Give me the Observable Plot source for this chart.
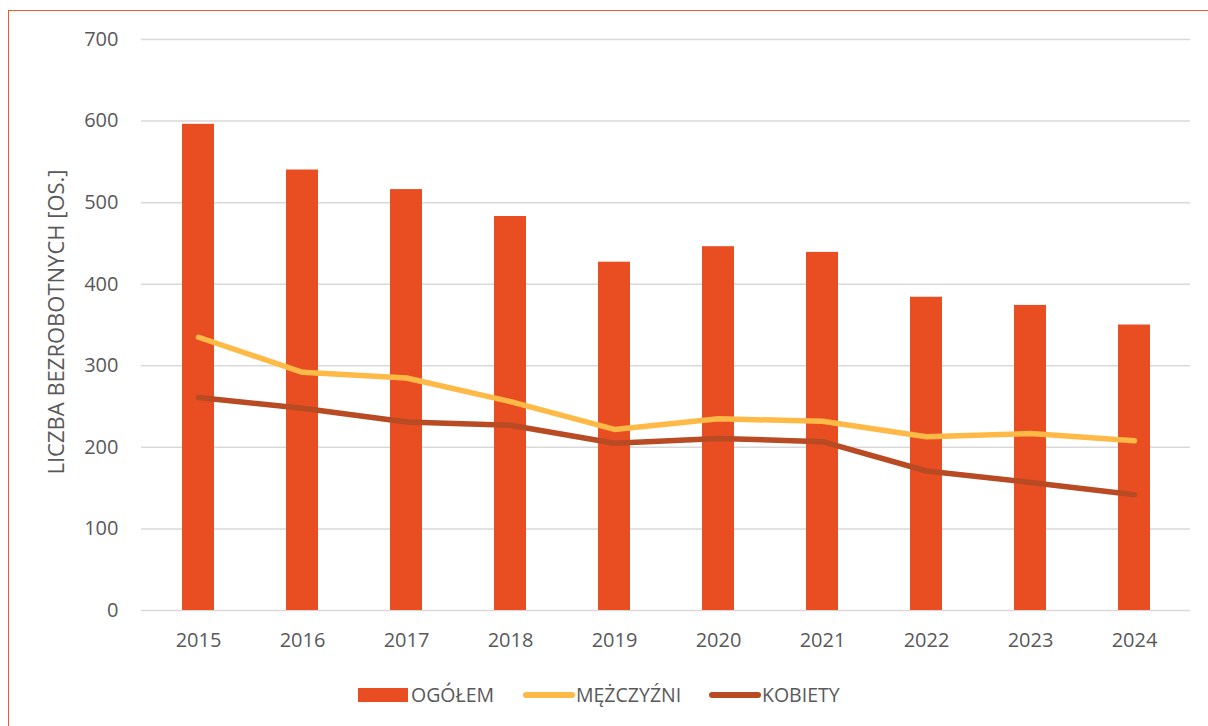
<!DOCTYPE html>
<html><head><meta charset="utf-8">
<script src="https://cdn.jsdelivr.net/npm/d3@7"></script>
<script src="https://cdn.jsdelivr.net/npm/@observablehq/plot@0.6"></script>
<style>
html,body{margin:0;padding:0;background:#fff;}
#wrap{position:relative;width:1208px;height:726px;overflow:hidden;font-family:"Open Sans",sans-serif;}
#frame{position:absolute;left:8px;top:10px;width:1300px;height:800px;border:1.5px solid #EE5A2E;box-sizing:border-box;}
#chart{position:absolute;left:0;top:0;}
#legend{position:absolute;top:680px;left:0;width:1208px;height:30px;font-size:19.5px;color:#595959;}
.sw{position:absolute;}
.lt{position:absolute;top:0;height:30px;line-height:30px;white-space:nowrap;}
</style></head>
<body><div id="wrap"><div id="frame"></div><div id="chart"></div>
<div id="legend"></div></div>
<script>
const years = ["2015","2016","2017","2018","2019","2020","2021","2022","2023","2024"];
const ogolem = [596, 540, 516, 483, 427, 446, 439, 384, 374, 350];
const mezczyzni = [335, 292, 285, 256, 222, 235, 232, 213, 217, 208];
const kobiety = [261, 248, 231, 227, 205, 211, 207, 171, 157, 142];
const yTicks = [0,100,200,300,400,500,600,700];
const seriesNames = ["OGÓŁEM","MĘŻCZYŹNI","KOBIETY"];
const colors = ["#E84E22","#FFB946","#B84A24"];

const bars = years.map((y,i)=>({year:y, v:ogolem[i]}));
const men = years.map((y,i)=>({year:y, v:mezczyzni[i]}));
const women = years.map((y,i)=>({year:y, v:kobiety[i]}));

const plot = Plot.plot({
  width:1208, height:660,
  marginLeft:141, marginRight:18, marginTop:39, marginBottom:50,
  style:{fontFamily:"Open Sans, sans-serif", fontSize:"20px", color:"#595959", background:"transparent"},
  x:{type:"band", domain:years, paddingInner:0.695, paddingOuter:0.3475, align:0.5, label:null},
  y:{domain:[0,700], ticks:yTicks, label:null},
  marks:[
    Plot.gridY(yTicks,{stroke:"#d9d9d9", strokeWidth:1.5, strokeOpacity:1}),
    Plot.barY(bars,{x:"year", y:"v", fill:colors[0]}),
    Plot.line(men,{x:"year", y:"v", stroke:colors[1], strokeWidth:5.5, strokeLinecap:"round", strokeLinejoin:"round"}),
    Plot.line(women,{x:"year", y:"v", stroke:colors[2], strokeWidth:5.5, strokeLinecap:"round", strokeLinejoin:"round"}),
    Plot.axisX({tickSize:0, tickPadding:22, fontSize:20, fill:"#595959", label:null}),
    Plot.axisY({ticks:yTicks, tickSize:0, tickPadding:23, fontSize:20, fill:"#595959", label:null}),
    Plot.text(["LICZBA BEZROBOTNYCH [OS.]"],{frameAnchor:"left", textAnchor:"middle", dx:-85, dy:-3, rotate:-90, fontSize:22, fill:"#595959"})
  ]
});
document.getElementById("chart").appendChild(plot);

const lg = document.getElementById("legend");
const swPos = [[358,50],[523,52],[709,52]];
const txtPos = [411, 576, 762];
seriesNames.forEach((n,i)=>{
  const sw = document.createElement("div"); sw.className="sw";
  sw.style.left = swPos[i][0]+"px"; sw.style.width = swPos[i][1]+"px";
  if(i===0){ sw.style.top="8px"; sw.style.height="14px"; sw.style.background=colors[0]; }
  else { sw.style.top="12px"; sw.style.height="6px"; sw.style.borderRadius="3px"; sw.style.background=colors[i]; }
  lg.appendChild(sw);
  const t = document.createElement("div"); t.className="lt"; t.style.left = txtPos[i]+"px";
  t.textContent = n; lg.appendChild(t);
});
</script></body></html>
